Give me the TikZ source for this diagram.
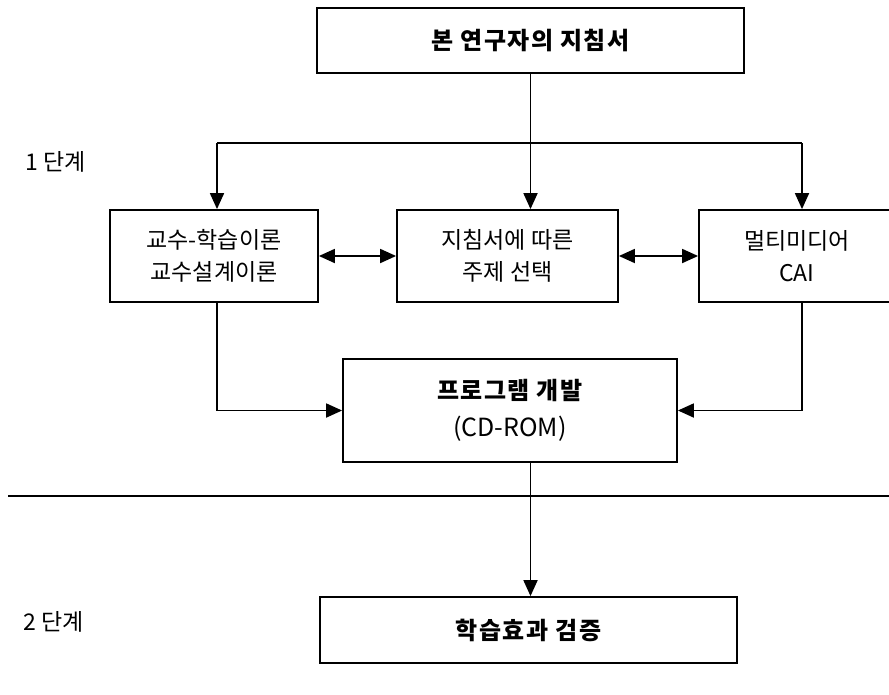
\documentclass[tikz,border=0pt]{standalone}
\usepackage{fontspec}
\setmainfont{Noto Sans CJK KR}
\usepackage{tikz}
\usetikzlibrary{arrows.meta}

\begin{document}
\begin{tikzpicture}[x=1pt,y=-1pt,line width=1.8pt,
	>={Triangle[length=16pt,width=14pt]},
	box/.style={shape=rectangle,draw=black,align=center,inner sep=0pt,
		font=\fontsize{23}{32}\selectfont},
	bigbox/.style={box,font=\fontsize{24}{37}\selectfont\bfseries\addfontfeature{LetterSpace=6}},
	stage/.style={anchor=west,inner sep=0pt,font=\fontsize{23}{28}\selectfont}]
		\useasboundingbox (0,0) rectangle (889,694);
		\node[bigbox,minimum width=427pt,minimum height=65pt] (top) at (530.5,40.5) {본 연구자의 지침서};
		\node[box,minimum width=208pt,minimum height=92pt] (left) at (214,256) {교수-학습이론\\교수설계이론};
		\node[box,minimum width=221pt,minimum height=92pt] (mid) at (507.5,256) {지침서에 따른\\주제 선택};
		\node[box,minimum width=196pt,minimum height=92pt] (right) at (797,256) {멀티미디어\\CAI};
		\node[bigbox,minimum width=334pt,minimum height=103pt] (prog) at (510,410.5) {프로그램 개발\\{\mdseries\addfontfeature{LetterSpace=0}\fontsize{25}{37}\selectfont (CD-ROM)}};
		\node[bigbox,minimum width=417pt,minimum height=66pt] (check) at (528.5,630) {학습효과 검증};
		\node[stage] (one) at (25,162) {1 단계};
		\node[stage] (two) at (23,622) {2 단계};
		\coordinate (hl) at (217,143);
		\coordinate (hr) at (802,143);
		\draw (hl) -- (hr);
		\draw [->] (top.south) -- (top.south |- mid.north);
		\draw [->] (hl) -- (hl |- left.north);
		\draw [->] (hr) -- (hr |- right.north);
		\draw [<->] (left) -- (mid);
		\draw [<->] (mid) -- (right);
		\draw [->] (hl |- left.south) |- (prog.west);
		\draw [->] (hr |- right.south) |- (prog.east);
		\draw (8,496) -- (889,496);
		\draw [->] (top.south |- prog.south) -- (top.south |- check.north);
	\end{tikzpicture}
\end{document}
